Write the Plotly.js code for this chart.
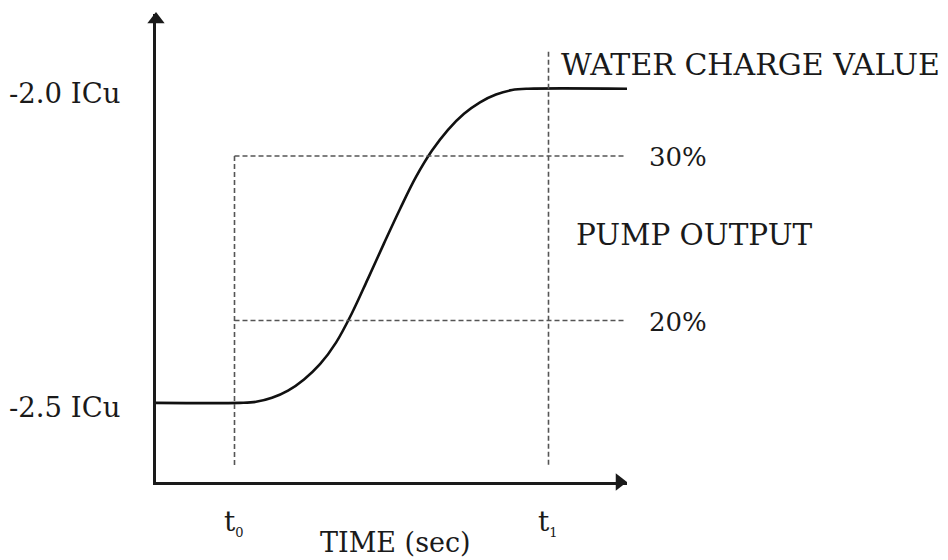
<!DOCTYPE html>
<html>
<head>
<meta charset="utf-8">
<script src="https://cdn.plot.ly/plotly-3.0.1.min.js"></script>
<style>html,body{margin:0;padding:0;background:#fff;}#chart{width:948px;height:560px;}</style>
</head>
<body>
<div id="chart"></div>
<script>
// ---- data ----
const timeVals = [0, 2.140, 2.548, 2.955, 3.363, 3.771, 4.178, 4.586, 4.994, 5.401, 5.809, 6.217, 6.624, 7.032, 7.439, 7.847, 8.255, 8.662, 9.070, 9.478, 12.0];
const icuVals  = [-2.5, -2.5, -2.4984, -2.4920, -2.4806, -2.4627, -2.4385, -2.4041, -2.3570, -2.3022, -2.2462, -2.1914, -2.1404, -2.0984, -2.0653, -2.0398, -2.0215, -2.0092, -2.0021, -2.0, -2.0];
const levelVals = [-2.5, -2.0];
const levelText = ['-2.5 ICu', '-2.0 ICu'];
const tMarks = [2, 10];
const tLabels = ['t<sub><span style="font-size:13px">0</span></sub>', 't<sub><span style="font-size:13px">1</span></sub>'];
const pumpVals = [-2.369, -2.107];
const pumpText = ['20%', '30%'];
const chargeLabel = 'WATER CHARGE VALUE';
const pumpLabel = 'PUMP OUTPUT';
const xTitle = 'TIME (sec)';

// ---- layout helpers ----
const X0 = 0, X1 = 12, Y0 = -2.626, Y1 = -1.881;
const dashBottom = -2.603, t1Top = -1.941, dashRight = 11.95;
const FONT = 'DejaVu Serif, Liberation Serif, serif';
const TXT = '#1a1a1a';
const AX = '#1a1a1a';
const dashStyle = {color: '#555', width: 1.6, dash: '5px,3px'};
const plotW = 471, plotH = 468;
const pxX = (X1 - X0) / plotW, pxY = (Y1 - Y0) / plotH;

const shapes = [];
shapes.push({type: 'line', xref: 'x', yref: 'y', x0: tMarks[0], x1: tMarks[0], y0: pumpVals[1], y1: dashBottom, line: dashStyle});
shapes.push({type: 'line', xref: 'x', yref: 'y', x0: tMarks[1], x1: tMarks[1], y0: t1Top, y1: dashBottom, line: dashStyle});
pumpVals.forEach(v => shapes.push({type: 'line', xref: 'x', yref: 'y', x0: tMarks[0], x1: dashRight, y0: v, y1: v, line: dashStyle}));

const annotations = [];
levelVals.forEach((v, i) => annotations.push({x: 0, y: v, xref: 'paper', yref: 'y', xanchor: 'right', yanchor: 'middle', xshift: -34, yshift: -4, text: levelText[i], showarrow: false, font: {family: FONT, size: 27.5, color: TXT}}));
pumpVals.forEach((v, i) => annotations.push({x: 1.0425, y: v, xref: 'paper', yref: 'y', xanchor: 'left', yanchor: 'middle', yshift: -1, text: pumpText[i], showarrow: false, font: {family: FONT, size: 26, color: TXT}}));
annotations.push({x: 10.27, y: -1.962, xref: 'x', yref: 'y', xanchor: 'left', yanchor: 'middle', text: chargeLabel, showarrow: false, font: {family: FONT, size: 30, color: TXT}});
annotations.push({x: 10.65, y: -2.2325, xref: 'x', yref: 'y', xanchor: 'left', yanchor: 'middle', text: pumpLabel, showarrow: false, font: {family: FONT, size: 29.5, color: TXT}});
tMarks.forEach((t, i) => annotations.push({x: t, y: 0, xref: 'x', yref: 'paper', xanchor: 'center', yanchor: 'middle', yshift: -40, xshift: -1, text: tLabels[i], showarrow: false, font: {family: FONT, size: 28, color: TXT}}));
annotations.push({x: 6.09, y: 0, xref: 'x', yref: 'paper', xanchor: 'center', yanchor: 'middle', yshift: -60, text: xTitle, showarrow: false, font: {family: FONT, size: 27, color: TXT}});

const curve = {
  x: timeVals, y: icuVals, type: 'scatter', mode: 'lines',
  line: {color: '#111', width: 2.6, shape: 'spline', smoothing: 1},
  hoverinfo: 'skip', showlegend: false
};
// arrow heads at the ends of the axes
const arrowSize = 15;
const heads = {
  x: [X0, X1 - (arrowSize / 2) * pxX],
  y: [Y1 - (arrowSize / 2 - 2) * pxY, Y0],
  type: 'scatter', mode: 'markers', cliponaxis: false,
  marker: {symbol: ['triangle-up', 'triangle-right'], size: arrowSize, color: AX, line: {width: 0}},
  hoverinfo: 'skip', showlegend: false
};

const layout = {
  width: 948, height: 560,
  margin: {l: 156, r: 321, t: 14, b: 78, pad: 0},
  paper_bgcolor: '#fff', plot_bgcolor: '#fff',
  xaxis: {range: [X0, X1], showgrid: false, zeroline: false, showline: true, linewidth: 3, linecolor: AX, showticklabels: false, ticks: '', fixedrange: true},
  yaxis: {range: [Y0, Y1], showgrid: false, zeroline: false, showline: true, linewidth: 3, linecolor: AX, showticklabels: false, ticks: '', fixedrange: true},
  shapes: shapes,
  annotations: annotations,
  showlegend: false
};

Plotly.newPlot('chart', [curve, heads], layout, {displayModeBar: false, staticPlot: true});
</script>
</body>
</html>
